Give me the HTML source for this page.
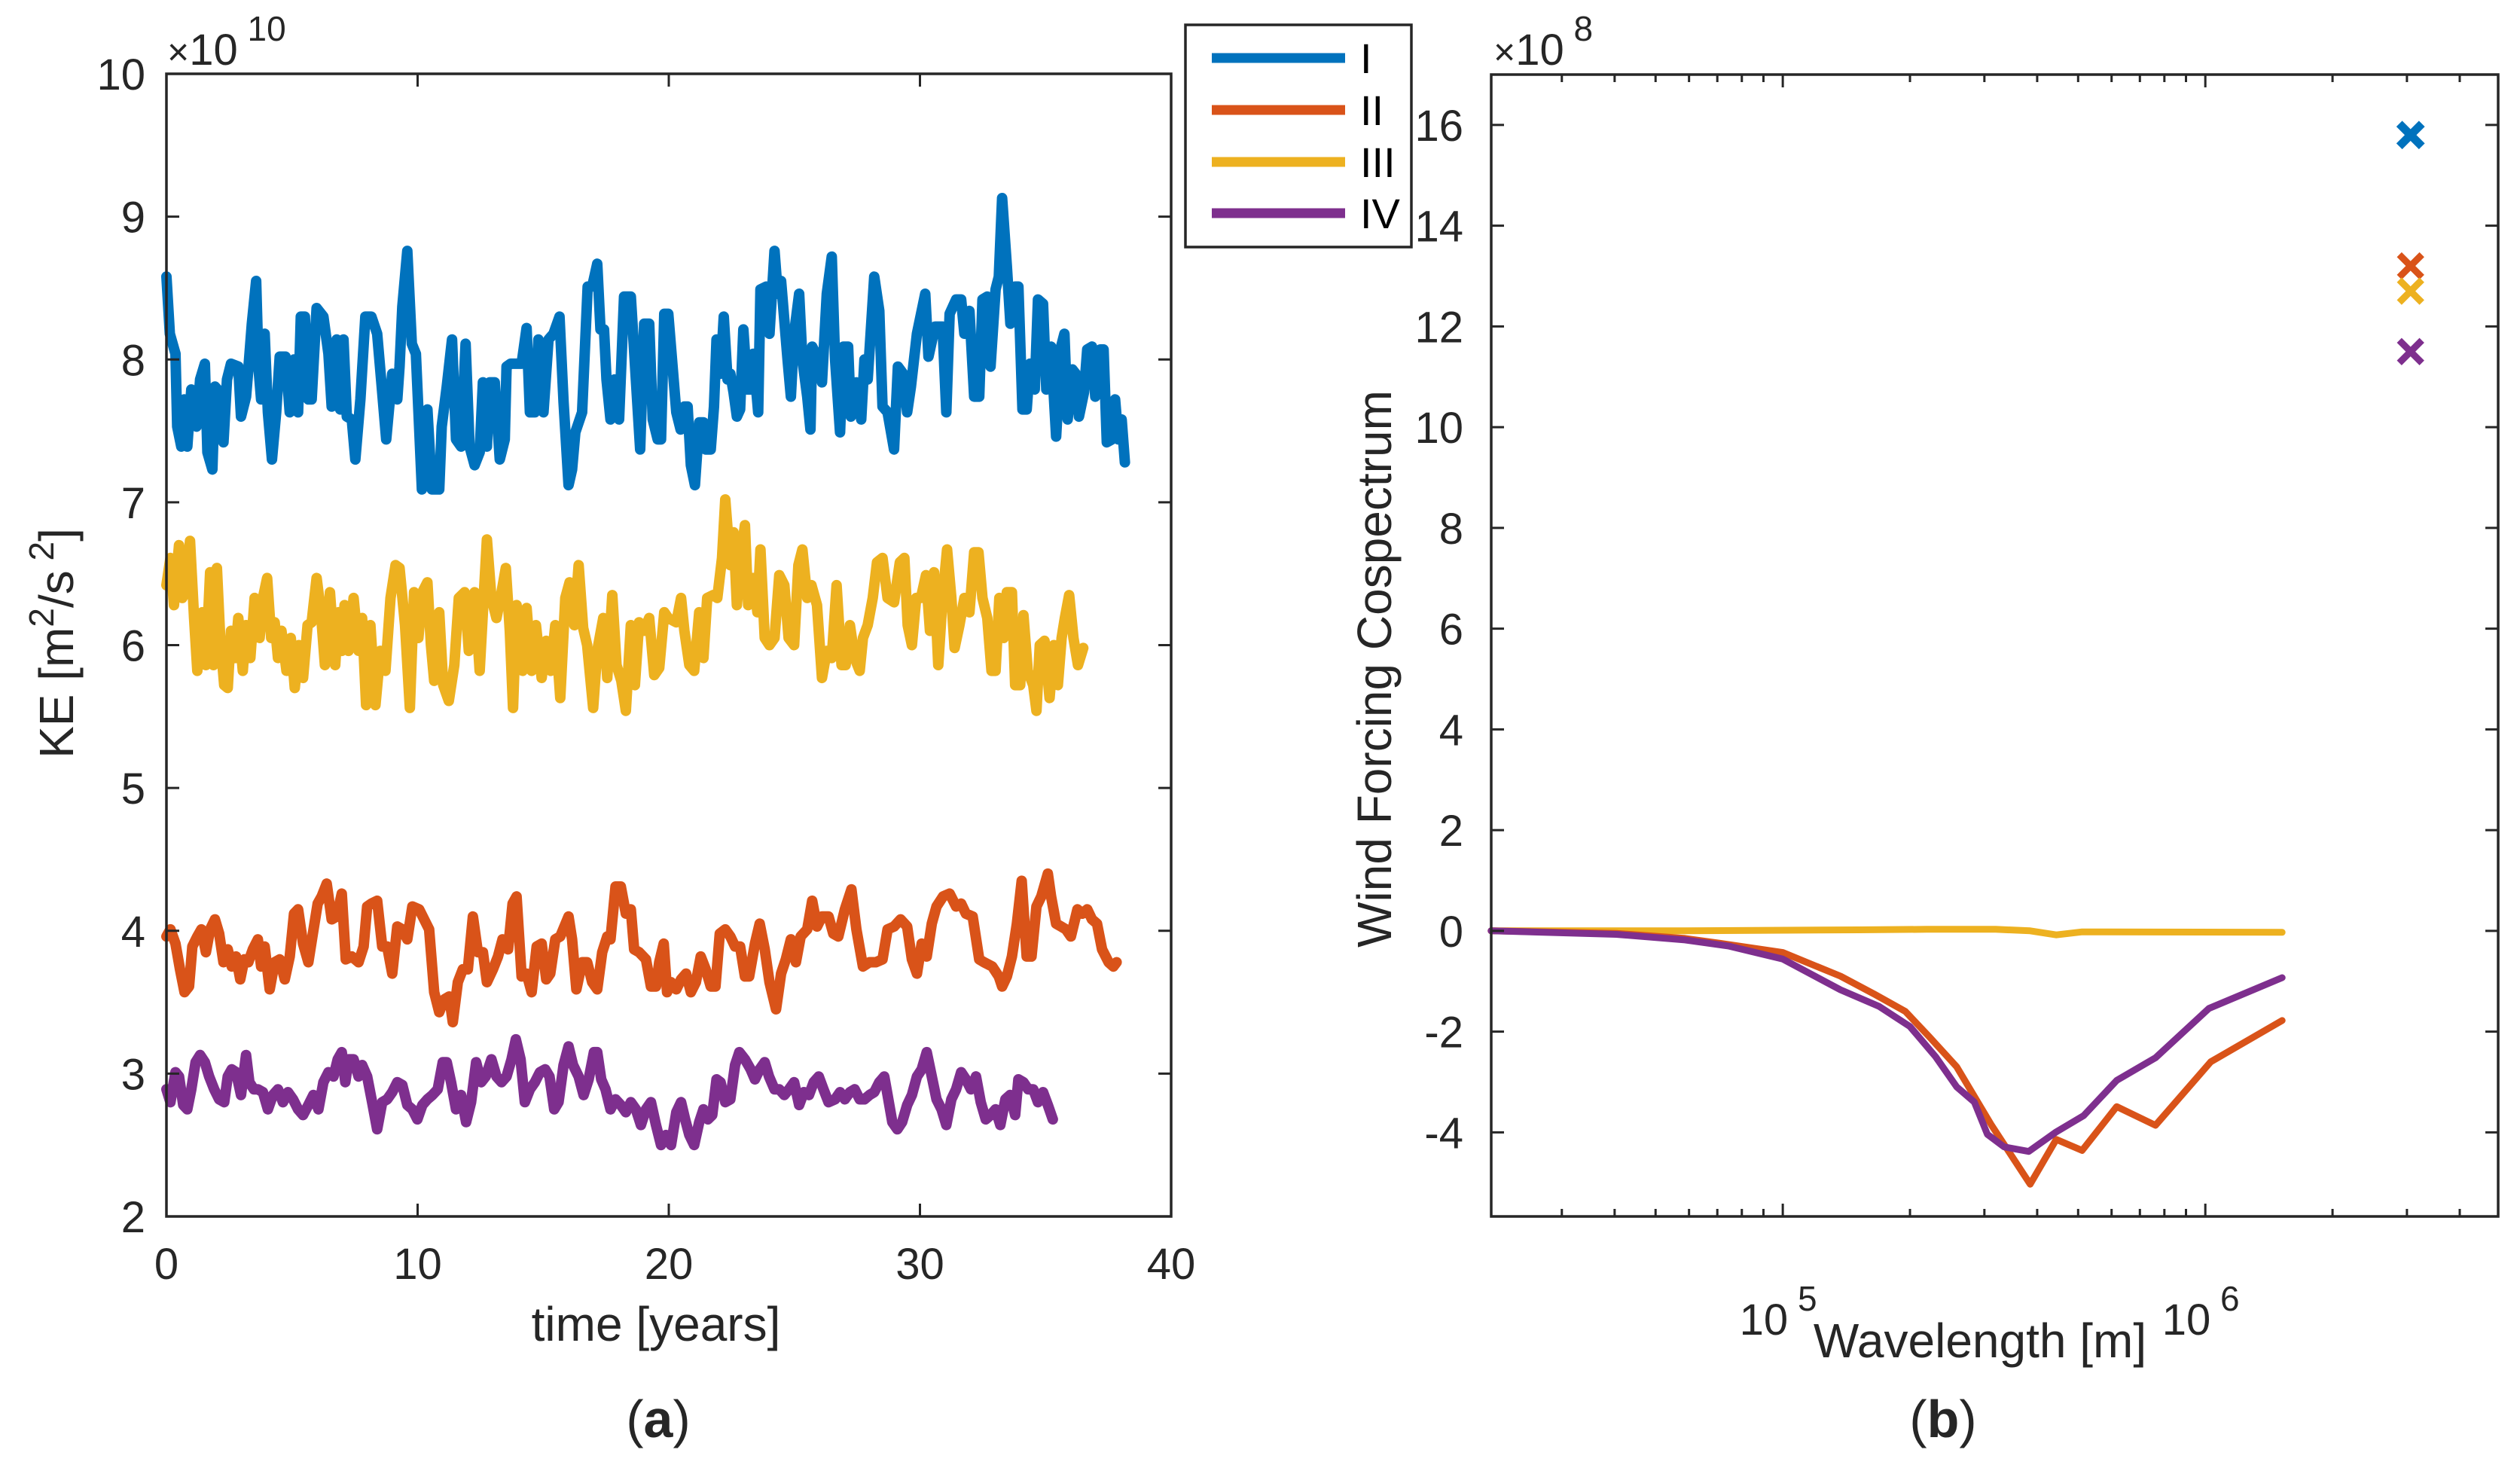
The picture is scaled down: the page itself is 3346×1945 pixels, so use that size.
<!DOCTYPE html>
<html><head><meta charset="utf-8"><style>
html,body{margin:0;padding:0;background:#fff;}
svg{display:block;}
text{font-family:"Liberation Sans",sans-serif;fill:#262626;}
</style></head><body>
<svg id="fig" width="3346" height="1945" viewBox="0 0 3346 1945" xmlns="http://www.w3.org/2000/svg">
<rect width="3346" height="1945" fill="#fff"/>
<g id="pa"></g>
<g id="pb"></g>
</svg>
<script>
// ---- Panel (a) data: time [years] and KE [x1e10 m^2/s^2]
const tI=[0,0.135,0.36,0.43,0.59,0.72,0.83,0.99,1.2,1.34,1.53,1.63,1.83,1.93,2.14,2.27,2.41,2.57,2.86,2.97,3.17,3.26,3.4,3.57,3.67,3.77,3.91,4.04,4.2,4.37,4.51,4.74,4.91,5.08,5.24,5.35,5.51,5.65,5.78,5.98,6.25,6.45,6.58,6.78,6.92,7.05,7.18,7.38,7.52,7.72,7.92,8.16,8.39,8.59,8.75,8.99,9.19,9.28,9.39,9.59,9.77,9.93,10.17,10.39,10.57,10.86,10.96,11.16,11.37,11.53,11.73,11.91,12.07,12.27,12.47,12.6,12.76,12.87,13.07,13.27,13.47,13.54,13.7,13.94,14.14,14.34,14.47,14.67,14.81,15.01,15.21,15.41,15.65,15.81,16.01,16.15,16.28,16.55,16.77,16.95,17.15,17.28,17.42,17.52,17.68,17.84,18.02,18.22,18.49,18.69,18.86,19.02,19.22,19.36,19.56,19.69,19.82,19.98,20.3,20.47,20.62,20.75,20.88,21.04,21.21,21.38,21.47,21.67,21.8,21.9,22.06,22.19,22.34,22.45,22.58,22.71,22.84,22.97,23.13,23.26,23.36,23.56,23.65,23.88,24.01,24.21,24.34,24.47,24.73,24.86,24.99,25.19,25.32,25.51,25.64,25.71,25.97,26.1,26.29,26.49,26.62,26.82,26.95,27.14,27.25,27.47,27.66,27.79,27.92,28.18,28.38,28.51,28.71,28.97,29.12,29.33,29.49,29.64,29.88,30.21,30.34,30.6,30.9,31.05,31.18,31.44,31.64,31.77,31.97,32.16,32.36,32.49,32.68,32.81,33.01,33.14,33.27,33.46,33.6,33.79,33.92,34.08,34.25,34.38,34.57,34.7,34.9,35.03,35.22,35.42,35.62,35.75,35.88,36.07,36.2,36.33,36.53,36.66,36.85,36.98,37.18,37.31,37.44,37.64,37.77,37.9,38.03,38.16];
const kI=[8.58,8.18,8.04,7.53,7.39,7.72,7.39,7.79,7.53,7.86,7.97,7.35,7.23,7.81,7.77,7.42,7.86,7.97,7.95,7.6,7.74,7.93,8.25,8.55,7.93,7.72,8.18,7.63,7.3,7.63,8.02,8.02,7.63,8,7.63,8.3,8.3,7.72,7.72,8.36,8.3,8.04,7.67,8.14,7.65,8.14,7.6,7.58,7.3,7.72,8.3,8.3,8.18,7.77,7.44,7.9,7.72,7.95,8.37,8.76,8.11,8.04,7.09,7.65,7.09,7.09,7.53,7.81,8.14,7.44,7.39,8.11,7.39,7.26,7.35,7.84,7.39,7.84,7.84,7.3,7.44,7.95,7.97,7.97,7.97,8.22,7.63,7.63,8.14,7.63,8.14,8.18,8.3,7.7,7.12,7.23,7.49,7.63,8.51,8.51,8.67,8.21,8.21,7.86,7.58,7.86,7.58,8.44,8.44,7.86,7.37,8.25,8.25,7.58,7.44,7.44,8.32,8.32,7.63,7.51,7.67,7.67,7.26,7.12,7.56,7.56,7.37,7.37,7.67,8.14,7.9,8.3,7.86,7.9,7.77,7.6,7.65,8.21,7.79,7.79,8.04,7.63,8.49,8.51,8.18,8.76,8.46,8.55,8,7.74,8.18,8.46,8,7.74,7.51,8.09,8,7.84,8.46,8.72,8,7.49,8.09,8.09,7.6,7.84,7.58,8,7.86,8.58,8.34,7.67,7.63,7.37,7.95,7.9,7.63,7.81,8.18,8.46,8.02,8.23,8.23,7.63,8.32,8.42,8.42,8.18,8.34,7.74,7.74,8.42,8.44,7.95,8.49,8.58,9.13,8.65,8.25,8.51,8.51,7.65,7.65,7.97,7.79,8.42,8.39,7.79,8.09,7.46,8.09,8.18,7.58,7.93,7.9,7.6,7.77,8.07,8.09,7.74,8.07,8.07,7.42,7.44,7.72,7.44,7.58,7.28];
const tIII=[0,0.16,0.3,0.5,0.63,0.76,0.94,1.1,1.23,1.43,1.57,1.74,1.87,2.01,2.14,2.3,2.44,2.57,2.73,2.86,3.04,3.17,3.34,3.51,3.71,3.84,4.01,4.17,4.31,4.44,4.58,4.78,4.95,5.11,5.27,5.44,5.62,5.78,5.98,6.15,6.31,6.51,6.72,6.85,6.98,7.09,7.25,7.45,7.65,7.79,7.95,8.12,8.32,8.52,8.72,8.92,9.12,9.28,9.5,9.69,9.86,10.03,10.19,10.39,10.53,10.66,10.86,11.02,11.24,11.46,11.64,11.87,12.04,12.27,12.47,12.63,12.76,12.94,13.14,13.34,13.51,13.67,13.8,13.94,14.18,14.34,14.54,14.71,14.94,15.12,15.3,15.48,15.68,15.88,16.05,16.24,16.41,16.59,16.75,16.99,17.15,17.39,17.55,17.75,17.92,18.11,18.29,18.49,18.65,18.82,19.02,19.22,19.42,19.62,19.82,19.98,20.3,20.49,20.62,20.82,21.01,21.21,21.38,21.53,21.77,21.93,22.12,22.25,22.45,22.58,22.71,22.86,23.03,23.16,23.36,23.53,23.65,23.82,24.01,24.21,24.4,24.6,24.77,24.99,25.16,25.32,25.51,25.68,25.9,26.1,26.29,26.49,26.68,26.88,27.04,27.21,27.4,27.6,27.73,27.92,28.12,28.29,28.51,28.71,28.97,29.2,29.38,29.51,29.68,29.85,30.04,30.24,30.4,30.56,30.73,30.9,31.08,31.25,31.38,31.57,31.77,31.97,32.16,32.33,32.49,32.68,32.85,33.01,33.16,33.33,33.46,33.66,33.79,33.99,34.12,34.29,34.51,34.64,34.77,34.96,35.16,35.33,35.49,35.64,35.77,35.94,36.11,36.29,36.5];
const kIII=[6.42,6.61,6.28,6.7,6.33,6.37,6.73,6.19,5.82,6.23,5.86,6.51,5.86,6.54,6.05,5.72,5.7,6.1,5.91,6.19,5.82,6.14,5.91,6.33,6.05,6.33,6.47,6.05,6.16,5.91,6.1,5.82,6.05,5.7,6,5.77,6.14,6.16,6.47,6.23,5.86,6.37,5.86,6.23,5.96,6.28,5.96,6.33,5.96,6.19,5.58,6.14,5.58,5.96,5.82,6.33,6.56,6.54,6.14,5.56,6.37,6.05,6.37,6.44,6,5.75,6.23,5.72,5.61,5.86,6.33,6.37,5.96,6.37,5.82,6.33,6.74,6.33,6.19,6.37,6.54,6.1,5.56,6.28,5.82,6.26,5.82,6.14,5.77,6.03,5.82,6.14,5.63,6.33,6.44,6.14,6.56,6.12,6,5.56,5.96,6.19,5.77,6.35,5.86,5.75,5.54,6.14,5.72,6.16,6.1,6.19,5.79,5.84,6.23,6.19,6.16,6.33,6.1,5.86,5.82,6.23,5.91,6.33,6.35,6.33,6.61,7.02,6.56,6.79,6.28,6.61,6.84,6.28,6.47,6.23,6.67,6.05,6,6.05,6.49,6.42,6.05,6,6.56,6.67,6.33,6.42,6.28,5.77,5.96,5.91,6.42,5.86,5.86,6.14,5.91,5.82,6.05,6.14,6.33,6.58,6.61,6.33,6.3,6.58,6.61,6.14,6,6.33,6.33,6.49,6.1,6.51,5.86,6.33,6.67,6.33,5.98,6.14,6.33,6.23,6.65,6.65,6.33,6.19,5.82,5.82,6.33,6.05,6.37,6.37,5.72,5.72,6.21,5.82,5.72,5.54,6,6.03,5.63,6,5.72,6.05,6.19,6.35,6.05,5.86,5.98];
const tII=[0,0.16,0.36,0.54,0.72,0.9,1.03,1.23,1.39,1.57,1.74,1.93,2.1,2.27,2.44,2.6,2.77,2.94,3.1,3.26,3.44,3.64,3.77,3.91,4.11,4.31,4.51,4.71,4.91,5.08,5.24,5.44,5.65,5.81,6.02,6.18,6.38,6.58,6.78,6.98,7.14,7.38,7.65,7.85,7.99,8.16,8.39,8.59,8.79,8.99,9.19,9.39,9.59,9.79,10.06,10.46,10.66,10.86,11.06,11.26,11.4,11.6,11.8,12,12.2,12.4,12.6,12.76,13,13.2,13.38,13.6,13.78,13.94,14.14,14.34,14.54,14.74,14.94,15.12,15.28,15.48,15.68,16.01,16.15,16.32,16.55,16.75,16.95,17.15,17.35,17.55,17.68,17.88,18.09,18.29,18.49,18.62,18.82,19.09,19.29,19.49,19.62,19.8,19.93,20.09,20.3,20.49,20.69,20.88,21.08,21.27,21.47,21.67,21.86,22.03,22.25,22.45,22.64,22.84,23.03,23.2,23.43,23.62,23.82,24.01,24.27,24.47,24.66,24.86,25.06,25.25,25.51,25.71,25.9,26.1,26.36,26.55,26.75,27.01,27.27,27.47,27.73,27.99,28.25,28.51,28.71,28.97,29.23,29.49,29.68,29.88,30.07,30.27,30.47,30.66,30.92,31.18,31.44,31.64,31.83,32.1,32.36,32.55,32.88,33.14,33.27,33.46,33.66,33.86,34.05,34.25,34.44,34.64,34.83,35.09,35.22,35.42,35.62,35.81,36.01,36.27,36.46,36.66,36.85,37.05,37.25,37.51,37.7,37.83];
const kII=[3.96,4.01,3.91,3.73,3.57,3.61,3.89,3.96,4.01,3.85,4.01,4.08,3.98,3.78,3.87,3.75,3.82,3.66,3.8,3.78,3.87,3.94,3.75,3.89,3.59,3.78,3.8,3.66,3.82,4.12,4.15,3.91,3.78,3.96,4.19,4.24,4.33,4.08,4.1,4.26,3.8,3.82,3.78,3.89,4.17,4.19,4.21,3.89,3.89,3.7,4.03,4.01,3.94,4.17,4.15,4.01,3.57,3.43,3.52,3.54,3.36,3.64,3.73,3.73,4.1,3.85,3.85,3.64,3.73,3.82,3.94,3.87,4.19,4.24,3.68,3.7,3.57,3.89,3.91,3.66,3.7,3.94,3.96,4.1,3.94,3.59,3.78,3.78,3.64,3.59,3.85,3.96,3.94,4.31,4.31,4.12,4.15,3.87,3.85,3.8,3.61,3.61,3.78,3.91,3.57,3.64,3.59,3.66,3.7,3.57,3.64,3.82,3.73,3.61,3.61,3.98,4.01,3.96,3.89,3.89,3.68,3.68,3.91,4.05,3.87,3.64,3.45,3.7,3.8,3.94,3.78,3.96,4.01,4.21,4.03,4.1,4.1,3.98,3.96,4.15,4.29,4.01,3.75,3.78,3.78,3.8,4.01,4.03,4.08,4.03,3.8,3.7,3.91,3.82,4.05,4.17,4.24,4.26,4.17,4.19,4.12,4.1,3.8,3.78,3.75,3.68,3.61,3.68,3.82,4.05,4.35,3.82,3.82,4.17,4.24,4.4,4.24,4.05,4.03,4.01,3.96,4.15,4.12,4.15,4.08,4.05,3.87,3.78,3.75,3.78];
const tIV=[0,0.16,0.36,0.5,0.67,0.83,0.99,1.16,1.34,1.53,1.7,1.9,2.1,2.3,2.44,2.6,2.77,2.97,3.17,3.3,3.48,3.64,3.84,4.04,4.24,4.44,4.64,4.84,5.04,5.24,5.44,5.65,5.85,6.05,6.25,6.45,6.65,6.82,6.98,7.12,7.25,7.45,7.65,7.79,7.99,8.19,8.39,8.59,8.79,8.99,9.19,9.39,9.59,9.79,9.99,10.19,10.39,10.59,10.8,11,11.16,11.33,11.53,11.73,11.93,12.13,12.33,12.53,12.71,12.94,13.14,13.34,13.54,13.74,13.91,14.1,14.27,14.47,14.67,14.87,15.08,15.25,15.44,15.61,15.81,16.01,16.19,16.41,16.61,16.81,17.02,17.15,17.31,17.48,17.68,17.88,18.09,18.29,18.49,18.69,18.89,19.09,19.29,19.49,19.69,19.89,20.09,20.3,20.49,20.65,20.82,21.01,21.21,21.38,21.56,21.73,21.9,22.06,22.25,22.45,22.64,22.81,23.03,23.26,23.43,23.62,23.82,23.99,24.21,24.4,24.6,24.79,24.99,25.19,25.38,25.58,25.77,25.97,26.16,26.36,26.62,26.82,27.01,27.21,27.4,27.6,27.79,27.99,28.18,28.38,28.58,28.71,28.9,29.1,29.29,29.49,29.68,29.88,30.07,30.27,30.47,30.66,30.86,31.05,31.25,31.44,31.64,31.83,32.03,32.23,32.42,32.62,32.81,33.01,33.2,33.4,33.59,33.79,33.92,34.12,34.31,34.51,34.7,34.9,35.09,35.29];
const kIV=[2.89,2.8,3.01,2.98,2.78,2.75,2.89,3.08,3.13,3.08,2.98,2.89,2.82,2.8,2.98,3.03,3.01,2.85,3.13,2.94,2.89,2.89,2.87,2.75,2.85,2.89,2.8,2.87,2.82,2.75,2.71,2.78,2.85,2.75,2.94,3.01,2.98,3.1,3.15,2.94,3.1,3.1,2.98,3.06,2.98,2.8,2.61,2.8,2.82,2.87,2.94,2.92,2.78,2.75,2.68,2.78,2.82,2.85,2.89,3.08,3.08,2.94,2.75,2.85,2.66,2.8,3.08,2.94,2.98,3.1,2.98,2.94,2.98,3.1,3.24,3.1,2.8,2.89,2.94,3.01,3.03,2.98,2.75,2.8,3.06,3.19,3.06,2.98,2.85,2.96,3.15,3.15,2.96,2.89,2.75,2.82,2.78,2.73,2.8,2.75,2.64,2.75,2.8,2.64,2.5,2.57,2.5,2.73,2.8,2.68,2.57,2.5,2.66,2.75,2.68,2.71,2.96,2.94,2.8,2.82,3.06,3.15,3.1,3.03,2.96,3.03,3.08,2.98,2.89,2.89,2.85,2.89,2.94,2.78,2.87,2.85,2.94,2.98,2.89,2.8,2.82,2.87,2.82,2.87,2.89,2.82,2.82,2.85,2.87,2.94,2.98,2.85,2.66,2.61,2.66,2.78,2.85,2.98,3.03,3.15,2.98,2.82,2.75,2.64,2.82,2.89,3.01,2.96,2.89,2.98,2.8,2.68,2.71,2.75,2.64,2.82,2.85,2.71,2.96,2.94,2.89,2.89,2.8,2.87,2.78,2.68];
const aXTicks=[0,10,20,30,40];
const aYTicks=[2,3,4,5,6,7,8,9,10];
// ---- Panel (b) data: wavelength [m] and cospectrum [x1e8]
const wII=[20400,40400,58700,74300,100000,137000,165000,195000,222000,258000,312000,385000,444000,511000,617000,762000,1030000,1520000];
const cII=[0,-0.05,-0.15,-0.27,-0.43,-0.9,-1.26,-1.6,-2.1,-2.7,-3.86,-5.03,-4.14,-4.36,-3.49,-3.86,-2.6,-1.78];
const wIV=[20400,40400,58700,74300,100000,137000,169000,200000,230000,258000,284000,305000,334000,382000,444000,515000,617000,762000,1020000,1520000];
const cIV=[0,-0.07,-0.18,-0.3,-0.56,-1.17,-1.5,-1.9,-2.5,-3.1,-3.4,-4.04,-4.29,-4.38,-3.99,-3.67,-2.97,-2.52,-1.54,-0.93];
const wIII=[20400,58700,151000,219000,319000,385000,444000,511000,1520000];
const cIII=[0,0,0.02,0.03,0.03,0,-0.08,-0.02,-0.03];
const markerW=[3060000,3060000,3060000,3060000];
const markerV=[15.8,13.2,12.7,11.5];
const bYTicks=[-4,-2,0,2,4,6,8,10,12,14,16];
const seriesNames=['I','II','III','IV'];
const colors=['#0072BD','#D95319','#EDB120','#7E2F8E'];

const NS='http://www.w3.org/2000/svg';
function mk(parent,tag,attrs,txt){const e=document.createElementNS(NS,tag);for(const k in attrs)e.setAttribute(k,attrs[k]);if(txt!==undefined)e.textContent=txt;parent.appendChild(e);return e;}
const AX='#262626';
const TF=58, LF=64, SF=46;

// ---------- Panel A ----------
const pa=document.getElementById('pa');
const A={x0:221,x1:1555,y0:98,y1:1615,xmin:0,xmax:40,ymin:2,ymax:10};
const ax=v=>A.x0+(v-A.xmin)/(A.xmax-A.xmin)*(A.x1-A.x0);
const ay=v=>A.y1-(v-A.ymin)/(A.ymax-A.ymin)*(A.y1-A.y0);
function drawSeries(parent,ts,vs,fx,fy,color,w,name){
  let d='';for(let i=0;i<ts.length;i++)d+=(i?'L':'M')+fx(ts[i]).toFixed(1)+' '+fy(vs[i]).toFixed(1);
  const p=mk(parent,'path',{d:d,fill:'none',stroke:color,'stroke-width':w,'stroke-linejoin':'round','stroke-linecap':'round'});
  
  
}
const aPlot=mk(pa,'g',{});


drawSeries(aPlot,tI,kI,ax,ay,colors[0],14,'line-I');
drawSeries(aPlot,tIII,kIII,ax,ay,colors[2],14,'line-III');
drawSeries(aPlot,tII,kII,ax,ay,colors[1],14,'line-II');
drawSeries(aPlot,tIV,kIV,ax,ay,colors[3],14,'line-IV');
const aBox=mk(pa,'rect',{x:A.x0,y:A.y0,width:A.x1-A.x0,height:A.y1-A.y0,fill:'none',stroke:AX,'stroke-width':3.5});


aXTicks.forEach(v=>{const x=ax(v);
  mk(pa,'line',{x1:x,y1:A.y1,x2:x,y2:A.y1-17,stroke:AX,'stroke-width':3});
  mk(pa,'line',{x1:x,y1:A.y0,x2:x,y2:A.y0+17,stroke:AX,'stroke-width':3});
  const t=mk(pa,'text',{x:x,y:1698,'font-size':TF,'text-anchor':'middle'},String(v));
  
  
});
aYTicks.forEach(v=>{const y=ay(v);
  mk(pa,'line',{x1:A.x0,y1:y,x2:A.x0+17,y2:y,stroke:AX,'stroke-width':3});
  mk(pa,'line',{x1:A.x1,y1:y,x2:A.x1-17,y2:y,stroke:AX,'stroke-width':3});
  const t=mk(pa,'text',{x:193,y:y+21,'font-size':TF,'text-anchor':'end'},String(v));
  
  
});
let e=mk(pa,'text',{x:222,y:86,'font-size':TF},'');
e.innerHTML='<tspan font-size="50">×</tspan>10<tspan dy="-32" font-size="'+SF+'"> 10</tspan>';


e=mk(pa,'text',{x:871,y:1780,'font-size':LF,'text-anchor':'middle'},'time [years]');


e=mk(pa,'text',{x:0,y:0,'font-size':LF,'text-anchor':'middle',transform:'translate(97,854) rotate(-90)'},'');
e.innerHTML='KE [m<tspan dy="-26" font-size="'+SF+'">2</tspan><tspan dy="26">/s</tspan><tspan dy="-26" font-size="'+SF+'"> 2</tspan><tspan dy="26">]</tspan>';


e=mk(pa,'text',{x:874,y:1908,'font-size':70,'text-anchor':'middle','font-family':'Liberation Serif, serif'},'');
e.innerHTML='(<tspan font-weight="bold">a</tspan>)';



// Legend
const lg=mk(pa,'g',{});


mk(lg,'rect',{x:1574,y:33,width:300,height:295,fill:'#fff',stroke:AX,'stroke-width':3.5});
const legY=[77,146,215,283];
seriesNames.forEach((n,i)=>{
  const g=mk(lg,'g',{});
  
  
  mk(g,'line',{x1:1609,y1:legY[i],x2:1786,y2:legY[i],stroke:colors[i],'stroke-width':13});
  mk(g,'text',{x:1806,y:legY[i]+20,'font-size':56,style:'fill:#000'},n);
});

// ---------- Panel B ----------
const pb=document.getElementById('pb');
const B={x0:1980,x1:3317,y0:99,y1:1615,lmin:4.31,lmax:6.693,ymin:-5.67,ymax:17};
const bx=w=>B.x0+(Math.log10(w)-B.lmin)/(B.lmax-B.lmin)*(B.x1-B.x0);
const by=v=>B.y1-(v-B.ymin)/(B.ymax-B.ymin)*(B.y1-B.y0);
const bPlot=mk(pb,'g',{});


drawSeries(bPlot,wIII,cIII,bx,by,colors[2],9,'curve-III');
drawSeries(bPlot,wII,cII,bx,by,colors[1],9,'curve-II');
drawSeries(bPlot,wIV,cIV,bx,by,colors[3],9,'curve-IV');
markerV.forEach((v,i)=>{
  const x=bx(markerW[i]),y=by(v),s=15;
  const m=mk(bPlot,'path',{d:`M${x-s} ${y-s}L${x+s} ${y+s}M${x-s} ${y+s}L${x+s} ${y-s}`,stroke:colors[i],'stroke-width':(i===0?11:9),fill:'none'});
  
  
});
const bBox=mk(pb,'rect',{x:B.x0,y:B.y0,width:B.x1-B.x0,height:B.y1-B.y0,fill:'none',stroke:AX,'stroke-width':3.5});


bYTicks.forEach(v=>{const y=by(v);
  mk(pb,'line',{x1:B.x0,y1:y,x2:B.x0+17,y2:y,stroke:AX,'stroke-width':3});
  mk(pb,'line',{x1:B.x1,y1:y,x2:B.x1-17,y2:y,stroke:AX,'stroke-width':3});
  const t=mk(pb,'text',{x:1943,y:y+21,'font-size':TF,'text-anchor':'end'},String(v));
  
  
});
for(let d=4;d<=6;d++){for(let k=1;k<=9;k++){const w=k*Math.pow(10,d);const l=Math.log10(w);
  if(l<B.lmin||l>B.lmax)continue;const x=bx(w);const len=(k===1)?17:10;
  mk(pb,'line',{x1:x,y1:B.y1,x2:x,y2:B.y1-len,stroke:AX,'stroke-width':3});
  mk(pb,'line',{x1:x,y1:B.y0,x2:x,y2:B.y0+len,stroke:AX,'stroke-width':3});
}}
[5,6].forEach(p=>{const x=bx(Math.pow(10,p));
  const t=mk(pb,'text',{x:x-6,y:1772,'font-size':TF,'text-anchor':'middle'},'');
  t.innerHTML='10<tspan dy="-32" font-size="'+SF+'"> '+p+'</tspan>';
  
  
});
e=mk(pb,'text',{x:1983,y:86,'font-size':TF},'');
e.innerHTML='<tspan font-size="50">×</tspan>10<tspan dy="-32" font-size="'+SF+'"> 8</tspan>';


e=mk(pb,'text',{x:2629,y:1802,'font-size':LF,'text-anchor':'middle'},'Wavelength [m]');


e=mk(pb,'text',{x:0,y:0,'font-size':LF,'text-anchor':'middle',transform:'translate(1847,888) rotate(-90)'},'Wind Forcing Cospectrum');


e=mk(pb,'text',{x:2580,y:1908,'font-size':70,'text-anchor':'middle','font-family':'Liberation Serif, serif'},'');
e.innerHTML='(<tspan font-weight="bold">b</tspan>)';


</script>
</body></html>
